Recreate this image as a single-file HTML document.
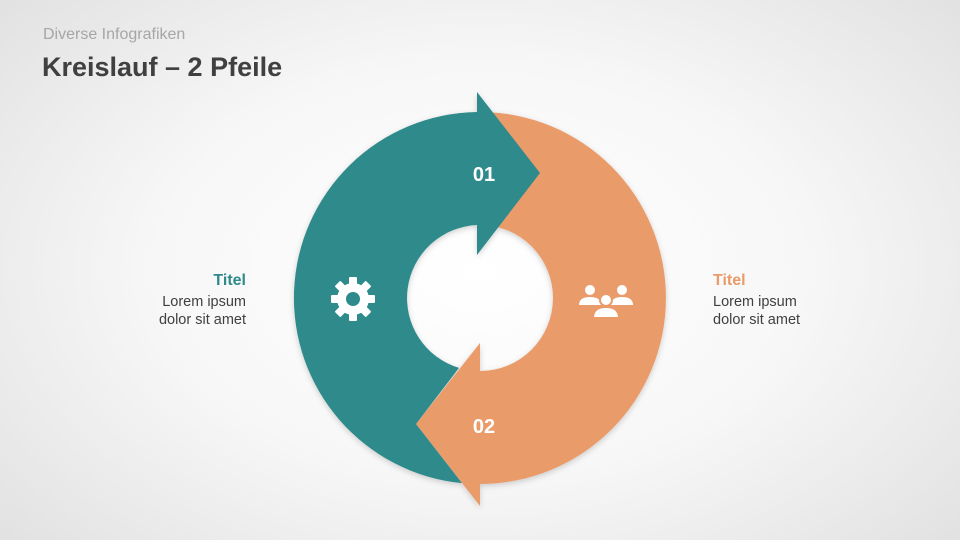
<!DOCTYPE html>
<html><head><meta charset="utf-8"><style>
html,body{margin:0;padding:0}
body{width:960px;height:540px;overflow:hidden;position:relative;font-family:"Liberation Sans",sans-serif;
background:radial-gradient(ellipse 75% 85% at 50% 50%,#ffffff 0%,#f7f7f7 45%,#dcdcdc 100%);}
.t{position:absolute;white-space:nowrap}
</style></head><body>
<div class="t" style="left:43px;top:26px;font-size:16px;color:#a6a6a6">Diverse Infografiken</div>
<div class="t" style="left:42px;top:52px;font-size:27px;font-weight:bold;color:#404040">Kreislauf – 2 Pfeile</div>

<div class="t" style="right:714px;top:272px;font-size:16px;font-weight:bold;color:#2e8a8b;text-align:right">Titel</div>
<div class="t" style="right:714px;top:294px;font-size:14.5px;color:#404040;text-align:right;line-height:17.5px">Lorem ipsum<br>dolor sit amet</div>
<div class="t" style="left:713px;top:272px;font-size:16px;font-weight:bold;color:#ea9b6a">Titel</div>
<div class="t" style="left:713px;top:294px;font-size:14.5px;color:#404040;line-height:17.5px">Lorem ipsum<br>dolor sit amet</div>

<svg width="960" height="540" style="position:absolute;left:0;top:0">
<defs><filter id="s" x="-20%" y="-20%" width="140%" height="140%"><feDropShadow dx="0" dy="2" stdDeviation="3" flood-opacity="0.18"/></filter></defs>
<g filter="url(#s)">
<path fill="#ea9b6a" d="M480,112 A186,186 0 0 1 480,484 L480,506 L416,424 L480,343 L480,371 A73,73 0 0 0 480,225 Z"/>
<path fill="#2e8a8b" d="M477,112.02 L477,92 L540,173 L477,255 L477,225.06 A73,73 0 0 0 459,367.9 L416,424 L462,483.13 A186,186 0 0 1 477,112.02 Z"/>
</g>
<text x="484" y="181" font-family="Liberation Sans" font-weight="bold" font-size="20" fill="#fff" text-anchor="middle">01</text>
<text x="484" y="433" font-family="Liberation Sans" font-weight="bold" font-size="20" fill="#fff" text-anchor="middle">02</text>
<g transform="translate(353,299)" fill="#fff">
<rect x="-4" y="-22" width="8" height="8" rx="1"/>
<rect x="-4" y="-22" width="8" height="8" rx="1" transform="rotate(45)"/>
<rect x="-4" y="-22" width="8" height="8" rx="1" transform="rotate(90)"/>
<rect x="-4" y="-22" width="8" height="8" rx="1" transform="rotate(135)"/>
<rect x="-4" y="-22" width="8" height="8" rx="1" transform="rotate(180)"/>
<rect x="-4" y="-22" width="8" height="8" rx="1" transform="rotate(225)"/>
<rect x="-4" y="-22" width="8" height="8" rx="1" transform="rotate(270)"/>
<rect x="-4" y="-22" width="8" height="8" rx="1" transform="rotate(315)"/>
<circle r="16"/>
<circle r="7" fill="#2e8a8b"/>
</g>
<g fill="#fff">
<circle cx="590" cy="290" r="5"/>
<path d="M579,305 Q579,297 590,297 Q601,297 601,305 Z"/>
<circle cx="622" cy="290" r="5"/>
<path d="M611,305 Q611,297 622,297 Q633,297 633,305 Z"/>
<path d="M593,318 Q593,307 606,307 Q619,307 619,318 Z" stroke="#ea9b6a" stroke-width="2"/>
<circle cx="606" cy="300" r="6" stroke="#ea9b6a" stroke-width="2"/>
</g>
</svg>
</body></html>
